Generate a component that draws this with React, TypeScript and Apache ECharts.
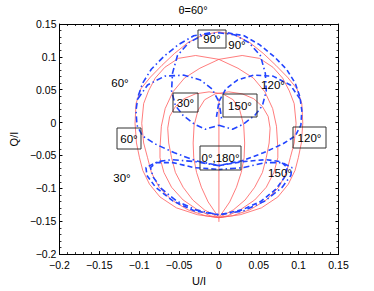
import React, { useEffect, useRef } from 'react';
import * as echarts from 'echarts';

// ---- axis ticks ----
const xMin = -0.2, xMax = 0.15, yMin = -0.2, yMax = 0.15, tickStep = 0.05;

// ---- red curves: fixed azimuth (boxed labels) [U/I, Q/I] ----
const redChi0180: number[][] = [[0, -0.151], [0, 0.037]];
const redChi90: number[][] = [
  [0, -0.1446], [-0.0268, -0.1401], [-0.0533, -0.1297], [-0.0739, -0.1131], [-0.0871, -0.0936],
  [-0.0955, -0.0727], [-0.0996, -0.0534], [-0.1034, -0.031], [-0.1052, -0.001], [-0.104, 0.0289],
  [-0.098, 0.0513], [-0.0859, 0.0692], [-0.0714, 0.0872], [-0.0558, 0.1051], [-0.0389, 0.1216],
  [-0.0196, 0.1336], [0, 0.138], [0.0196, 0.1336], [0.0389, 0.1216], [0.0558, 0.1051],
  [0.0714, 0.0872], [0.0859, 0.0692], [0.098, 0.0513], [0.104, 0.0289], [0.1052, -0.001],
  [0.1034, -0.031], [0.0996, -0.0534], [0.0955, -0.0727], [0.0871, -0.0936], [0.0739, -0.1131],
  [0.0533, -0.1297], [0.0268, -0.1401], [0, -0.1446],
];
const redChi60: number[][] = [
  [0, -0.1446], [-0.0171, -0.1416], [-0.0389, -0.1326], [-0.0594, -0.1177], [-0.0751, -0.0983],
  [-0.0847, -0.0758], [-0.0895, -0.0534], [-0.0944, -0.031], [-0.0968, -0.001], [-0.0944, 0.0289],
  [-0.0883, 0.0483], [-0.0799, 0.0677], [-0.0678, 0.0842], [-0.0509, 0.0977], [-0.0292, 0.1021],
  [0, 0.0962], [0.0239, 0.0827], [0.0432, 0.0678], [0.0577, 0.0468], [0.0674, 0.0214],
  [0.0722, -0.0055], [0.0739, -0.0384], [0.0739, -0.0534], [0.069, -0.0758], [0.0594, -0.0983],
  [0.0449, -0.1177], [0.0268, -0.1326], [0.0111, -0.1416], [0, -0.1446],
];
const redChi120: number[][] = [
  [0, -0.1446], [-0.0111, -0.1416], [-0.0268, -0.1326], [-0.0449, -0.1177], [-0.0594, -0.0983],
  [-0.069, -0.0758], [-0.0739, -0.0534], [-0.0739, -0.0384], [-0.0722, -0.0055], [-0.0674, 0.0214],
  [-0.0577, 0.0468], [-0.0432, 0.0678], [-0.0239, 0.0827], [0, 0.0962], [0.0292, 0.1021],
  [0.0509, 0.0977], [0.0678, 0.0842], [0.0799, 0.0677], [0.0883, 0.0483], [0.0944, 0.0289],
  [0.0968, -0.001], [0.0944, -0.031], [0.0895, -0.0534], [0.0847, -0.0758], [0.0751, -0.0983],
  [0.0594, -0.1177], [0.0389, -0.1326], [0.0171, -0.1416], [0, -0.1446],
];
const redChi30: number[][] = [
  [0, -0.1446], [-0.0183, -0.1326], [-0.0328, -0.1177], [-0.0449, -0.0983], [-0.0546, -0.0758],
  [-0.0594, -0.0534], [-0.063, -0.031], [-0.0642, -0.0085], [-0.0618, 0.0094], [-0.0546, 0.0244],
  [-0.0437, 0.0363], [-0.0292, 0.0438], [-0.0123, 0.0468], [0.0046, 0.0438], [0.0179, 0.0348],
  [0.0263, 0.0184], [0.0311, -0.004], [0.0323, -0.031], [0.0316, -0.0534], [0.028, -0.0758],
  [0.022, -0.0983], [0.0135, -0.1207], [0, -0.1446],
];
const redChi150: number[][] = [
  [0, -0.1446], [-0.0135, -0.1207], [-0.022, -0.0983], [-0.028, -0.0758], [-0.0316, -0.0534],
  [-0.0323, -0.031], [-0.0311, -0.004], [-0.0263, 0.0184], [-0.0179, 0.0348], [-0.0046, 0.0438],
  [0.0123, 0.0468], [0.0292, 0.0438], [0.0437, 0.0363], [0.0546, 0.0244], [0.0618, 0.0094],
  [0.0642, -0.0085], [0.063, -0.031], [0.0594, -0.0534], [0.0546, -0.0758], [0.0449, -0.0983],
  [0.0328, -0.1177], [0.0183, -0.1326], [0, -0.1446],
];

// ---- blue curves: fixed inclination (unboxed labels) ----
const blueTheta90: number[][] = [
  [0, -0.004], [0.0171, -0.01], [0.0304, -0.0025], [0.0449, 0.0109], [0.0546, 0.0259],
  [0.0594, 0.0483], [0.0582, 0.0752], [0.052, 0.1021], [0.0377, 0.1216], [0.0196, 0.1336],
  [0, 0.1366], [-0.0196, 0.1336], [-0.0377, 0.1216], [-0.052, 0.1021], [-0.0582, 0.0752],
  [-0.0594, 0.0483], [-0.0546, 0.0259], [-0.0449, 0.0109], [-0.0304, -0.0025], [-0.0171, -0.01],
  [0, -0.004],
];
const blueTheta60Outer: number[][] = [
  [-0.0111, 0.1366], [-0.0316, 0.1321], [-0.0509, 0.1186], [-0.069, 0.1007], [-0.0848, 0.0812],
  [-0.0956, 0.0603], [-0.1016, 0.0393], [-0.104, 0.0184], [-0.1028, -0.004], [-0.0956, -0.0205],
  [-0.0799, -0.0325], [-0.0558, -0.0459], [-0.0292, -0.0579], [0, -0.0654],
];
const blueTheta60Inner: number[][] = [
  [-0.1016, 0.0363], [-0.0895, 0.0573], [-0.0678, 0.0707], [-0.0437, 0.0722], [-0.0232, 0.0648],
  [-0.0087, 0.0513], [0, 0.0319], [0.0034, 0.0064],
];
const blueTheta120Outer: number[][] = [
  [0.0111, 0.1366], [0.0316, 0.1321], [0.0509, 0.1186], [0.069, 0.1007], [0.0848, 0.0812],
  [0.0956, 0.0603], [0.1016, 0.0393], [0.104, 0.0184], [0.1028, -0.004], [0.0956, -0.0205],
  [0.0799, -0.0325], [0.0558, -0.0459], [0.0292, -0.0579], [0, -0.0654],
];
const blueTheta120Inner: number[][] = [
  [0.1016, 0.0363], [0.0895, 0.0573], [0.0678, 0.0707], [0.0437, 0.0722], [0.0232, 0.0648],
  [0.0087, 0.0513], [0, 0.0319], [-0.0034, 0.0064],
];
const blueTheta30: number[][] = [
  [0, -0.0654], [-0.0292, -0.0594], [-0.0594, -0.0564], [-0.0775, -0.0594], [-0.0859, -0.0684],
  [-0.0823, -0.0833], [-0.0714, -0.1013], [-0.0533, -0.1192], [-0.0292, -0.1327], [0, -0.1402],
  [0.0311, -0.1342], [0.0577, -0.1192], [0.0794, -0.0983], [0.0903, -0.0803], [0.0915, -0.0684],
  [0.0794, -0.0609], [0.0577, -0.0609], [0.0311, -0.0684], [0, -0.0713],
];
const blueTheta150: number[][] = [
  [0, -0.0654], [0.0292, -0.0594], [0.0594, -0.0564], [0.0775, -0.0594], [0.0859, -0.0684],
  [0.0823, -0.0833], [0.0714, -0.1013], [0.0533, -0.1192], [0.0292, -0.1327], [0, -0.1402],
  [-0.0311, -0.1342], [-0.0577, -0.1192], [-0.0794, -0.0983], [-0.0903, -0.0803], [-0.0915, -0.0684],
  [-0.0794, -0.0609], [-0.0577, -0.0609], [-0.0311, -0.0684], [0, -0.0713],
];

// ---- labels ----
const boxedLabels = [
  { text: '90°', x: 198, y: 30, w: 28, h: 18 },
  { text: '30°', x: 173, y: 93, w: 25, h: 19 },
  { text: '60°', x: 117, y: 128, w: 24, h: 21 },
  { text: '150°', x: 223, y: 94, w: 34, h: 23 },
  { text: '120°', x: 293, y: 127, w: 33, h: 21 },
  { text: '0°,180°', x: 200, y: 146, w: 41, h: 24 },
];
const plainLabels = [
  { text: '60°', x: 120, y: 83 },
  { text: '90°', x: 237, y: 45 },
  { text: '120°', x: 273, y: 85 },
  { text: '30°', x: 122, y: 178 },
  { text: '150°', x: 280, y: 173 },
];

const FONT = '"Liberation Sans", Arial, Helvetica, sans-serif';
const RED = '#ff5c5c';
const BLUE = '#2244ff';

const fmt = (v: number) => {
  const r = parseFloat(v.toFixed(3));
  if (r === 0) return '0';
  return r < 0 ? '\u2212' + String(Math.abs(r)) : String(r);
};

export default function App() {
  const ref = useRef<HTMLDivElement>(null);
  useEffect(() => {
    if (!ref.current) return;
    const chart = echarts.init(ref.current, undefined, { renderer: 'svg' });
    const axisCommon = {
      type: 'value' as const,
      interval: tickStep,
      axisLine: { show: true, onZero: false, lineStyle: { color: '#000', width: 1 } },
      axisTick: { show: true, inside: true, length: 3, lineStyle: { color: '#000', width: 1 } },
      minorTick: { show: true, splitNumber: 5, length: 2, lineStyle: { color: '#000', width: 0.8 } },
      splitLine: { show: false },
    };
    const labelStyle = { color: '#000', fontFamily: FONT, fontSize: 10.5, formatter: fmt };
    const red = (name: string, data: number[][]) => ({
      type: 'line', name, data, showSymbol: false, symbol: 'none', smooth: false,
      lineStyle: { color: RED, width: 0.8 }, z: 2, silent: true,
    });
    const blue = (name: string, data: number[][], dash: number[]) => ({
      type: 'line', name, data, showSymbol: false, symbol: 'none', smooth: false,
      lineStyle: { color: BLUE, width: 1.6, type: dash }, z: 3, silent: true,
    });
    const dashDot = [6, 3, 1.5, 3];
    const dashed = [5, 3];
    const graphics: any[] = [];
    boxedLabels.forEach((b) => {
      graphics.push({
        type: 'rect', shape: { x: b.x, y: b.y, width: b.w, height: b.h },
        style: { fill: 'none', stroke: '#333', lineWidth: 1 }, z: 10,
      });
      graphics.push({
        type: 'text', x: b.x + b.w / 2, y: b.y + b.h / 2,
        style: { text: b.text, font: `11.5px ${FONT}`, fill: '#000', align: 'center', verticalAlign: 'middle' }, z: 11,
      });
    });
    plainLabels.forEach((p) => {
      graphics.push({
        type: 'text', x: p.x, y: p.y,
        style: { text: p.text, font: `11.5px ${FONT}`, fill: '#000', align: 'center', verticalAlign: 'middle' }, z: 11,
      });
    });
    graphics.push({
      type: 'text', x: 193, y: 10,
      style: { text: 'θ=60°', font: `11px ${FONT}`, fill: '#000', align: 'center', verticalAlign: 'middle' },
    });
    chart.setOption({
      animation: false,
      backgroundColor: '#fff',
      grid: { left: 48.5, right: 35.5, top: 24, bottom: 32.7, containLabel: false },
      xAxis: [
        { ...axisCommon, min: xMin, max: xMax, position: 'bottom',
          axisLabel: { ...labelStyle, margin: 5 },
          name: 'U/I', nameLocation: 'middle', nameGap: 14,
          nameTextStyle: { color: '#000', fontFamily: FONT, fontSize: 11 } },
        { ...axisCommon, min: xMin, max: xMax, position: 'top', axisLabel: { show: false } },
      ],
      yAxis: [
        { ...axisCommon, min: yMin, max: yMax, position: 'left',
          axisLabel: { ...labelStyle, margin: 3 },
          name: 'Q/I', nameLocation: 'middle', nameGap: 38,
          nameTextStyle: { color: '#000', fontFamily: FONT, fontSize: 11 } },
        { ...axisCommon, min: yMin, max: yMax, position: 'right', axisLabel: { show: false } },
      ],
      series: [
        red('chi0_180', redChi0180),
        red('chi90', redChi90),
        red('chi60', redChi60),
        red('chi120', redChi120),
        red('chi30', redChi30),
        red('chi150', redChi150),
        blue('theta90', blueTheta90, dashDot),
        blue('theta60', blueTheta60Outer, dashDot),
        blue('theta60b', blueTheta60Inner, dashDot),
        blue('theta120', blueTheta120Outer, dashed),
        blue('theta120b', blueTheta120Inner, dashed),
        blue('theta30', blueTheta30, dashDot),
        blue('theta150', blueTheta150, dashed),
      ],
      graphic: graphics,
    });
    return () => chart.dispose();
  }, []);
  return <div ref={ref} style={{ position: 'absolute', left: 0, top: 0, width: 374, height: 291 }} />;
}
